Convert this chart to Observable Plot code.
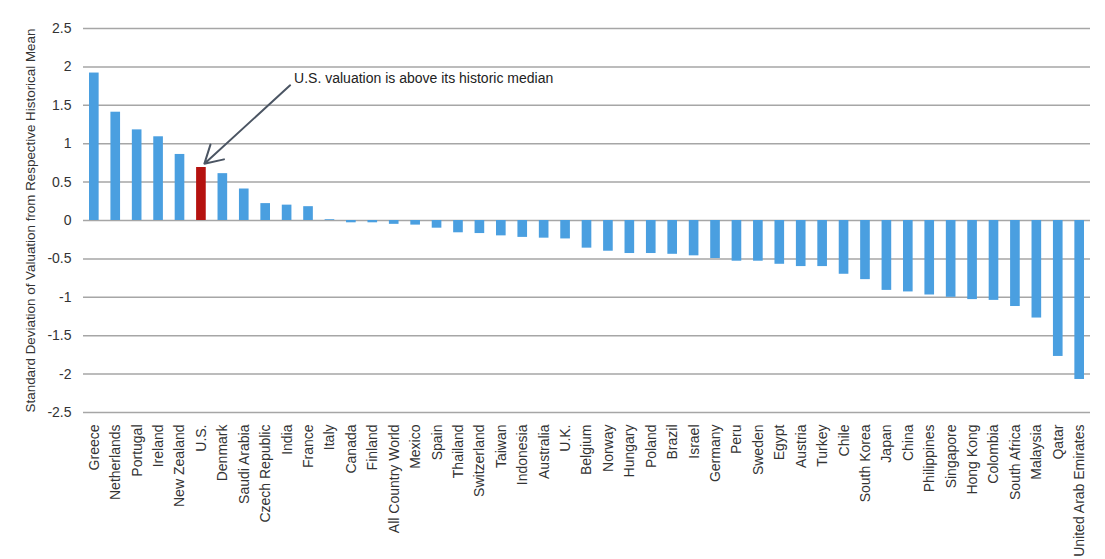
<!DOCTYPE html>
<html>
<head>
<meta charset="utf-8">
<script src="https://cdn.jsdelivr.net/npm/d3@7"></script>
<script src="https://cdn.jsdelivr.net/npm/@observablehq/plot@0.6"></script>
<style>
  html, body { margin: 0; padding: 0; background: #fff; }
  #chart { width: 1105px; height: 559px; }
</style>
</head>
<body>
<div id="chart"></div>
<script>
const countries = ["Greece","Netherlands","Portugal","Ireland","New Zealand","U.S.","Denmark","Saudi Arabia","Czech Republic","India","France","Italy","Canada","Finland","All Country World","Mexico","Spain","Thailand","Switzerland","Taiwan","Indonesia","Australia","U.K.","Belgium","Norway","Hungary","Poland","Brazil","Israel","Germany","Peru","Sweden","Egypt","Austria","Turkey","Chile","South Korea","Japan","China","Philippines","Singapore","Hong Kong","Colombia","South Africa","Malaysia","Qatar","United Arab Emirates"];
const values = [1.92,1.41,1.18,1.09,0.86,0.69,0.61,0.41,0.22,0.20,0.18,0.01,-0.03,-0.03,-0.05,-0.06,-0.10,-0.16,-0.17,-0.20,-0.22,-0.23,-0.24,-0.36,-0.40,-0.43,-0.43,-0.44,-0.46,-0.495,-0.53,-0.53,-0.57,-0.60,-0.60,-0.70,-0.77,-0.91,-0.93,-0.97,-1.00,-1.03,-1.04,-1.12,-1.27,-1.77,-2.07];
const highlighted = ["U.S."];
const yTicks = [2.5,2,1.5,1,0.5,0,-0.5,-1,-1.5,-2,-2.5];
const yLabel = "Standard Deviation of Valuation from Respective Historical Mean";
const annotationText = ["U.S. valuation is above its historic median"];
const annotationArrow = [{from: "India", fromY: 1.76, to: "U.S.", toY: 0.74}];
const annotationLabel = [{at: "India", y: 1.85, text: annotationText[0]}];

const data = countries.map((c, i) => ({country: c, value: values[i]}));

const chart = Plot.plot({
  width: 1105,
  height: 559,
  marginLeft: 83,
  marginRight: 15,
  marginTop: 28,
  marginBottom: 147,
  style: {fontFamily: "'Liberation Sans', Arial, sans-serif", fontSize: "14px", color: "#333", background: "#fff"},
  x: {domain: countries, paddingInner: 0.55, paddingOuter: 0.28, round: false, label: null},
  y: {domain: [-2.5, 2.5], label: null},
  marks: [
    Plot.ruleY(yTicks, {stroke: "#a6a6a6", strokeWidth: 1.5}),
    Plot.barY(data, {
      x: "country", y: "value",
      fill: d => highlighted.includes(d.country) ? "#b5120f" : "#4a9fe0"
    }),
    Plot.axisY(yTicks, {
      tickSize: 0, tickPadding: 12, tickFormat: d => String(d),
      fontSize: 14, fill: "#333",
      label: null
    }),
    Plot.axisY({
      ticks: [], tickSize: 0,
      fontSize: 13.4, fill: "#333",
      label: yLabel, labelAnchor: "center", labelArrow: "none", labelOffset: 58
    }),
    Plot.axisX({
      tickSize: 0, tickPadding: 12, tickRotate: -90, fontSize: 14, fill: "#333", label: null
    }),
    Plot.arrow(annotationArrow, {
      x1: "from", y1: "fromY", x2: "to", y2: "toY",
      stroke: "#4b5563", strokeWidth: 2, headLength: 15, headAngle: 60, dx: 3
    }),
    Plot.text(annotationLabel, {
      x: "at", y: "y", text: "text", textAnchor: "start", dx: 7,
      fontSize: 14, fill: "#222"
    })
  ]
});
document.getElementById("chart").appendChild(chart);
</script>
</body>
</html>
